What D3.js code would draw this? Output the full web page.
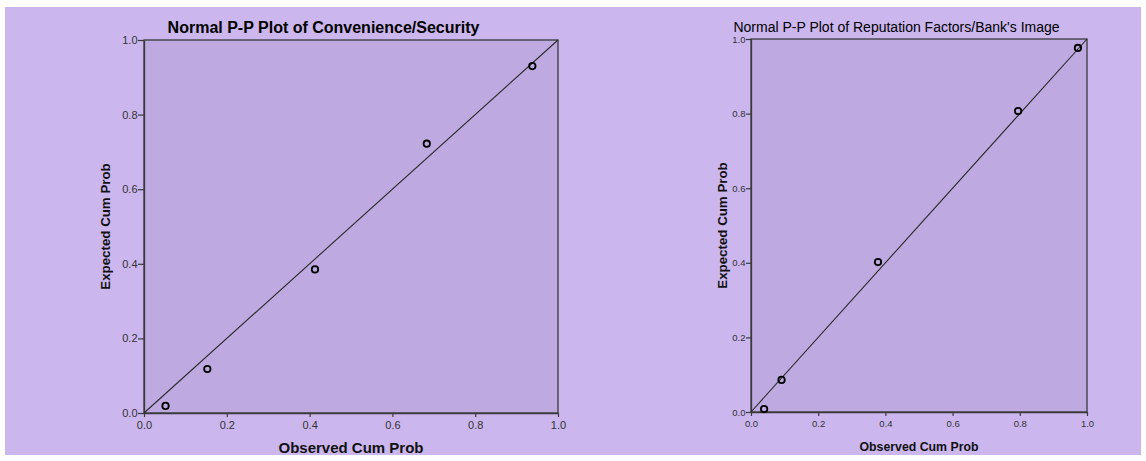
<!DOCTYPE html>
<html>
<head>
<meta charset="utf-8">
<script src="https://cdn.jsdelivr.net/npm/d3@7/dist/d3.min.js"></script>
<style>
  html, body { margin: 0; padding: 0; background: #ffffff; }
  svg { display: block; font-family: Arial, "Liberation Sans", sans-serif; }
</style>
</head>
<body>
<svg id="chart" width="1146" height="461"></svg>
<script>
// Normal P-P plot data: observed vs expected cumulative probabilities
const titles = [
  "Normal P-P Plot of Convenience/Security",
  "Normal P-P Plot of Reputation Factors/Bank's Image"
];
const observedConvenience = [0.052, 0.153, 0.413, 0.683, 0.938];
const expectedConvenience = [0.019, 0.118, 0.385, 0.722, 0.930];
const observedReputation = [0.039, 0.091, 0.378, 0.795, 0.973];
const expectedReputation = [0.008, 0.086, 0.402, 0.807, 0.976];
const tickValues = [0.0, 0.2, 0.4, 0.6, 0.8, 1.0];
const xAxisLabel = "Observed Cum Prob";
const yAxisLabel = "Expected Cum Prob";

const svg = d3.select("#chart");

// Page background
svg.append("rect")
  .attr("x", 5).attr("y", 7).attr("width", 1136).attr("height", 448)
  .attr("fill", "#cbb6ee");

const panels = [
  { title: titles[0], obs: observedConvenience, exp: expectedConvenience,
    left: 144, right: 558, top: 40, bottom: 413,
    bold: true, titleSize: 16, titleX: 323.5, titleY: 33,
    tickSize: 11, yTick: 6, xLabelSize: 15, xLabelY: 453,
    yLabelSize: 13.3, yLabelX: 110 },
  { title: titles[1], obs: observedReputation, exp: expectedReputation,
    left: 751, right: 1087, top: 39, bottom: 412,
    bold: false, titleSize: 14, titleX: 896.5, titleY: 32,
    tickSize: 9.5, yTick: 5, xLabelSize: 12.3, xLabelY: 451,
    yLabelSize: 13.3, yLabelX: 727 }
];

panels.forEach(p => {
  const x = d3.scaleLinear().domain([0, 1]).range([p.left, p.right]);
  const y = d3.scaleLinear().domain([0, 1]).range([p.bottom, p.top]);
  const g = svg.append("g");

  // Plot area
  g.append("rect")
    .attr("x", x(0)).attr("y", y(1))
    .attr("width", x(1) - x(0)).attr("height", y(0) - y(1))
    .attr("fill", "#bea9e0")
    .attr("stroke", "#3a3a3a").attr("stroke-width", 1.3);

  // Axes
  const xAxis = d3.axisBottom(x).tickValues(tickValues).tickFormat(d3.format(".1f")).tickSize(4).tickSizeOuter(0);
  const yAxis = d3.axisLeft(y).tickValues(tickValues).tickFormat(d3.format(".1f")).tickSize(p.yTick).tickSizeOuter(0);

  const gx = g.append("g").attr("transform", `translate(0,${y(0)})`).call(xAxis);
  const gy = g.append("g").attr("transform", `translate(${x(0)},0)`).call(yAxis);
  [gx, gy].forEach(a => {
    a.select(".domain").attr("stroke", "#3a3a3a").attr("stroke-width", 1.3);
    a.selectAll(".tick line").attr("stroke", "#3a3a3a").attr("stroke-width", 1.2);
    a.selectAll(".tick text")
      .attr("fill", "#333")
      .style("font-size", p.tickSize + "px")
      .style("font-family", "Arial, 'Liberation Sans', sans-serif");
  });
  gx.selectAll(".tick text").attr("dy", "0.9em").attr("y", 6.5);
  gy.selectAll(".tick text").attr("x", -p.yTick - 0.5);

  // Diagonal reference line
  g.append("line")
    .attr("x1", x(0)).attr("y1", y(0)).attr("x2", x(1)).attr("y2", y(1))
    .attr("stroke", "#2a2a2a").attr("stroke-width", 1.1);

  // Points
  g.selectAll("circle.pt").data(p.obs.map((o, i) => [o, p.exp[i]]))
    .join("circle").attr("class", "pt")
    .attr("cx", d => x(d[0])).attr("cy", d => y(d[1]))
    .attr("r", 3.2)
    .attr("fill", "none").attr("stroke", "#000").attr("stroke-width", 1.8);

  // Title
  g.append("text")
    .attr("x", p.titleX).attr("y", p.titleY)
    .attr("text-anchor", "middle")
    .attr("font-weight", p.bold ? "bold" : "normal")
    .style("font-size", p.titleSize + "px")
    .attr("fill", "#000")
    .text(p.title);

  // Axis titles
  g.append("text")
    .attr("x", (p.left + p.right) / 2).attr("y", p.xLabelY)
    .attr("text-anchor", "middle").attr("font-weight", "bold")
    .style("font-size", p.xLabelSize + "px").attr("fill", "#111")
    .text(xAxisLabel);

  g.append("text")
    .attr("transform", `translate(${p.yLabelX},${(p.top + p.bottom) / 2}) rotate(-90)`)
    .attr("text-anchor", "middle").attr("font-weight", "bold")
    .style("font-size", p.yLabelSize + "px").attr("fill", "#111")
    .text(yAxisLabel);
});
</script>
</body>
</html>
